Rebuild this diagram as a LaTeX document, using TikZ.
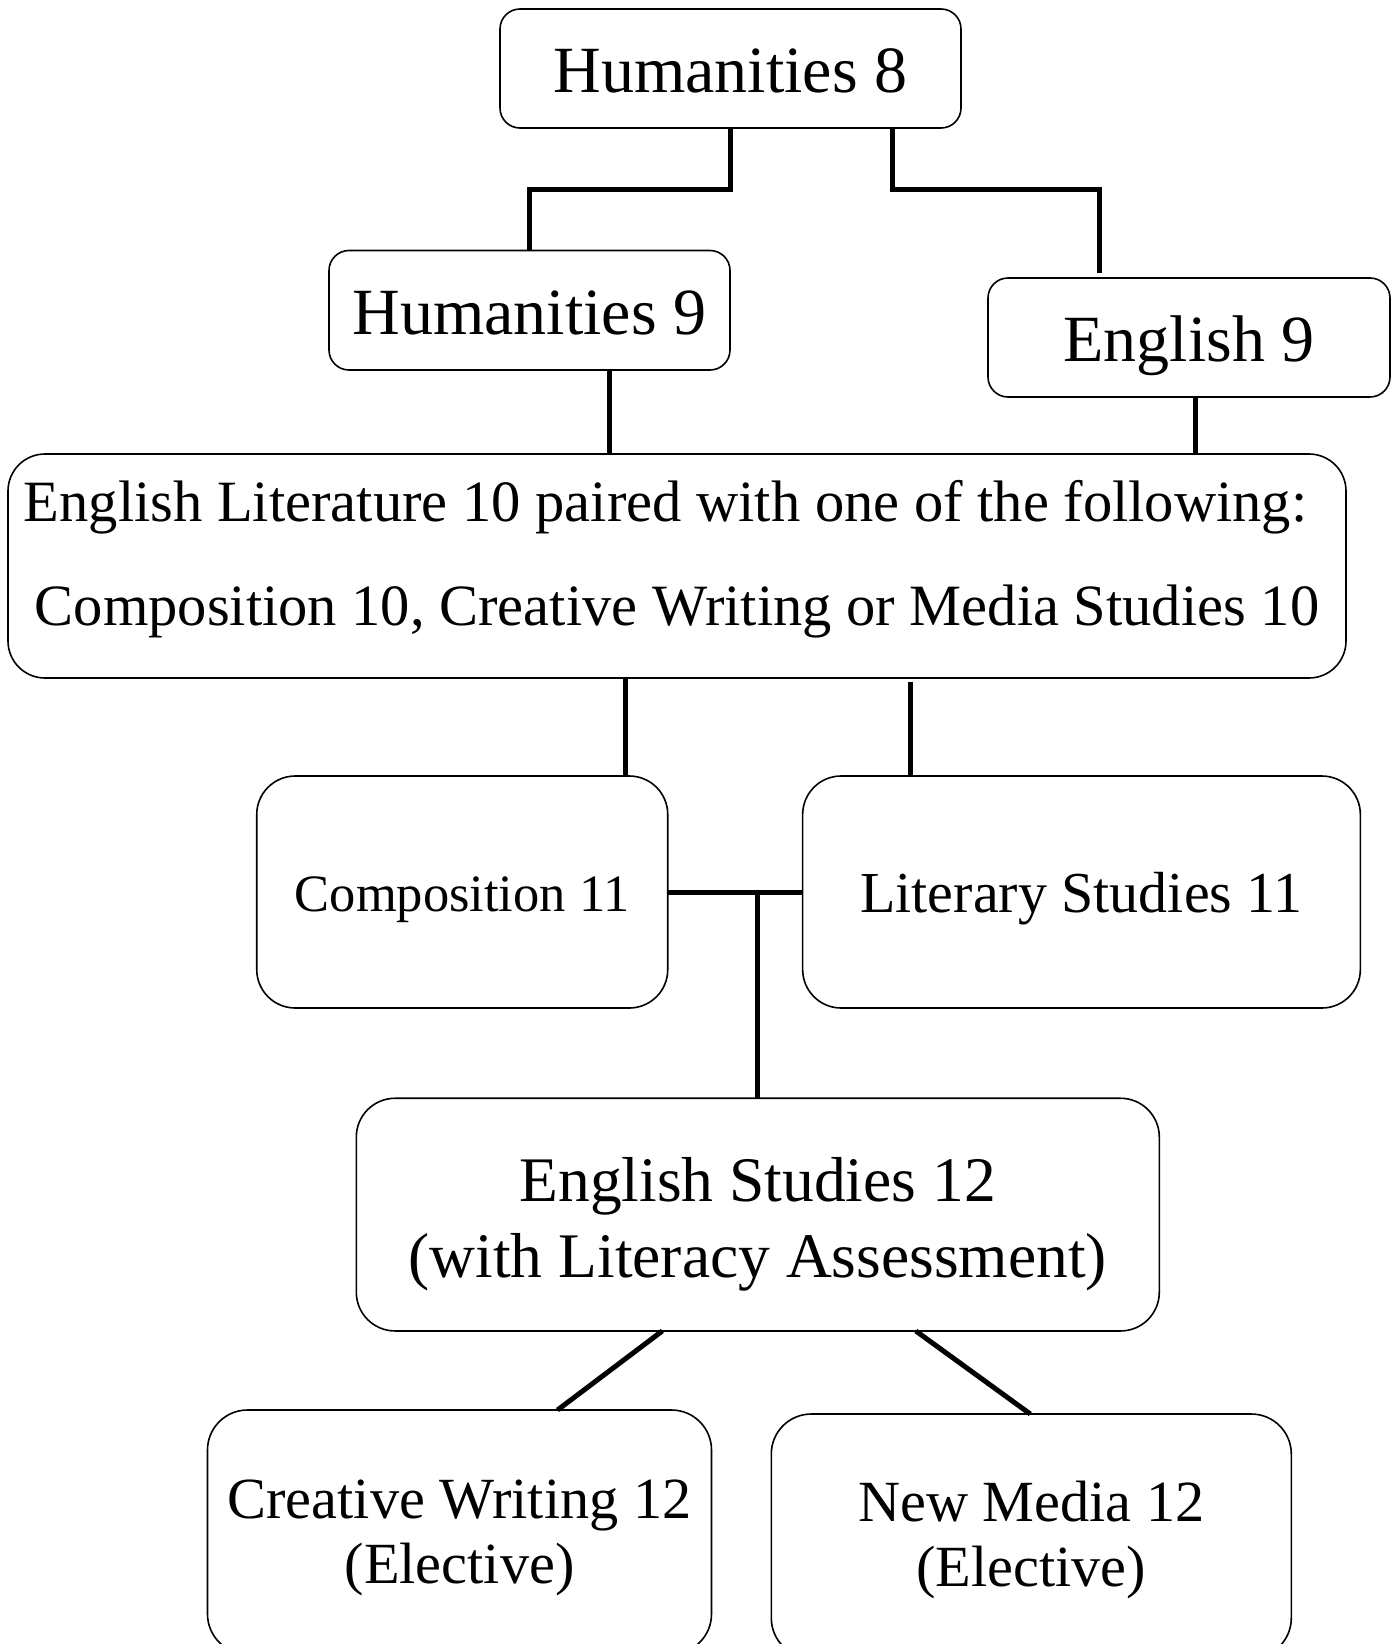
\documentclass[tikz,border=0pt]{standalone}
\usepackage{fontspec}
\setmainfont{Liberation Serif}
% invisible struts that fix the top of the first line and the bottom of the last line
\newcommand\firstline[1]{\rule{0pt}{#1}}
\newcommand\lastline[1]{\rule[-#1]{0pt}{#1}}
\begin{document}
\begin{tikzpicture}[x=1pt,y=-1pt,
  course/.style={draw, line width=1.6pt, rounded corners=#1, inner sep=0pt,
                 outer sep=0pt, align=center},
  link/.style={line width=5pt}]
\useasboundingbox (0,0) rectangle (1394,1644);
\fill[white] (0,0) rectangle (1394,1644);
\clip (0,0) rectangle (1394,1644);

% course boxes
\node[course=20pt, minimum width=461pt, minimum height=119pt,
      font=\fontsize{66}{79}\selectfont, text height=48pt, text depth=0pt]
      (h8) at (730.5,68.5) {Humanities 8};
\node[course=20pt, minimum width=401pt, minimum height=119.5pt,
      font=\fontsize{66}{79}\selectfont, text height=48pt, text depth=0pt]
      (h9) at (529.5,310.25) {Humanities 9};
\node[course=20pt, minimum width=402pt, minimum height=119pt,
      font=\fontsize{66}{79}\selectfont, text height=48pt, text depth=0pt]
      (e9) at (1189,337.5) {English 9};
\node[course=37pt, minimum width=1338pt, minimum height=224pt,
      font=\fontsize{58.5}{104.7}\selectfont]
      (el10) at (677,566)
      {\firstline{45pt}English Literature 10 paired with one of the following:\hspace*{23pt}\\
       \lastline{30.3pt}Composition 10, Creative Writing or Media Studies 10};
\node[course=38.5pt, minimum width=411pt, minimum height=232pt,
      font=\fontsize{52.5}{63}\selectfont, text height=39.4pt, text depth=0pt]
      (c11) at (462.25,892) {Composition 11};
\node[course=38.5pt, minimum width=557.7pt, minimum height=232pt,
      font=\fontsize{58}{70}\selectfont, text height=40pt, text depth=0pt]
      (l11) at (1081.5,892) {Literary Studies 11};
\node[course=38.8pt, minimum width=803pt, minimum height=232.7pt,
      font=\fontsize{63.5}{75.5}\selectfont]
      (es12) at (757.8,1214.6)
      {\firstline{63.5pt}English Studies 12\\ \lastline{14pt}(with Literacy Assessment)};
\node[course=40pt, minimum width=504pt, minimum height=244pt,
      font=\fontsize{58.3}{65}\selectfont]
      (cw12) at (459.5,1532)
      {\firstline{51.6pt}Creative Writing 12\\ \lastline{14pt}(Elective)};
\node[course=40pt, minimum width=520pt, minimum height=244pt,
      font=\fontsize{58.3}{65}\selectfont]
      (nm12) at (1031.3,1536)
      {\firstline{50pt}New Media 12\\ \lastline{14pt}(Elective)};

% connectors
\draw[link] (h8.south) -- ++(0,61) -| (h9.north);
\coordinate (e9in) at ([xshift=-90pt,yshift=5.5pt]e9.north);
\draw[link] ([xshift=161.5pt]h8.south) -- ++(0,61) -| (e9in);

\coordinate (h9out) at ([xshift=79.5pt]h9.south);
\draw[link] (h9out) -- (h9out |- el10.north);
\coordinate (e9out) at ([xshift=6pt]e9.south);
\draw[link] (e9out) -- (e9out |- el10.north);

\coordinate (elA) at ([xshift=-52pt]el10.south);
\draw[link] (elA) -- (elA |- c11.north);
\coordinate (l11in) at ([xshift=-171.5pt]l11.north);
\path (l11in |- el10.south) ++(0,4) coordinate (elB);
\draw[link] (elB) -- (l11in);

\draw[link] (c11.east) -- (l11.west);
\draw[link] (es12.north) -- ([yshift=2.5pt]es12.north |- c11.east);

\draw[link] ([xshift=-95.5pt]es12.south) -- ([xshift=98pt]cw12.north);
\draw[link] ([xshift=158pt]es12.south) -- ([xshift=-1pt]nm12.north);
\end{tikzpicture}
\end{document}
